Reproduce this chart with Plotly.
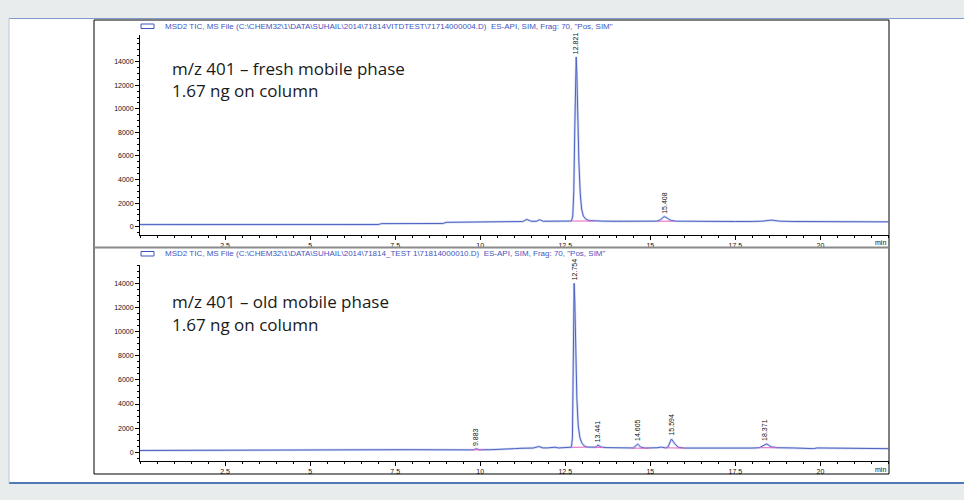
import plotly.graph_objects as go

W, H = 964, 500

# ---------------- DATA ----------------
top_time = [0.0, 0.5, 1.0, 2.0, 3.0, 4.0, 5.0, 6.0, 7.0, 7.1, 8.0, 8.9, 9.0, 9.5, 10.0, 10.5, 11.0,
            11.25, 11.37, 11.5, 11.65, 11.75, 11.85, 12.2, 12.5, 12.68, 12.72, 12.75, 12.78, 12.80,
            12.821, 12.84, 12.87, 12.90, 12.94, 12.98, 13.03, 13.10, 13.20, 13.35, 13.6, 14.0, 14.5,
            15.0, 15.2, 15.3, 15.408, 15.5, 15.6, 15.75, 16.0, 16.5, 17.0, 17.5, 18.0, 18.3, 18.55,
            18.8, 19.2, 19.8, 20.3, 21.0, 21.5, 22.0]
top_signal = [180, 180, 178, 180, 180, 179, 180, 181, 182, 260, 262, 270, 370, 380, 400, 410, 420,
              440, 620, 460, 460, 590, 460, 455, 465, 480, 900, 3000, 8500, 12800,
              14400, 13000, 9000, 5500, 2800, 1500, 900, 650, 520, 480, 470, 455, 450,
              455, 470, 600, 860, 720, 540, 470, 460, 450, 440, 440, 445, 470, 560,
              470, 440, 430, 420, 415, 410, 410]

bottom_time = [0.0, 1.0, 2.0, 3.0, 4.0, 5.0, 6.0, 7.0, 7.05, 8.0, 9.0, 9.2, 9.3, 9.4, 9.5, 9.8,
               9.883, 9.97, 10.3, 10.6, 11.0, 11.2, 11.45, 11.55, 11.72, 11.85, 12.0, 12.2, 12.3,
               12.5, 12.62, 12.68, 12.71, 12.73, 12.745, 12.76, 12.78, 12.81, 12.84, 12.88, 12.93,
               12.99, 13.06, 13.15, 13.3, 13.40, 13.46, 13.55, 13.7, 14.0, 14.3, 14.5, 14.63, 14.72,
               14.85, 15.0, 15.2, 15.33, 15.45, 15.52, 15.62, 15.72, 15.82, 16.0, 16.5, 17.0, 17.5,
               18.0, 18.2, 18.42, 18.55, 18.75, 19.2, 19.7, 19.8, 19.9, 20.5, 21.0, 22.0]
bottom_signal = [150, 150, 152, 150, 150, 152, 150, 152, 210, 215, 220, 200, 235, 195, 230, 200,
                 290, 210, 215, 230, 300, 330, 380, 350, 480, 360, 370, 420, 360,
                 380, 390, 420, 1200, 5000, 11000, 14000, 12500, 8000, 4500, 2200, 1200,
                 750, 520, 430, 400, 420, 600, 430, 390, 370, 340, 360, 680, 420,
                 350, 340, 380, 430, 360, 450, 1100, 700, 420, 350, 340, 330, 340,
                 350, 380, 700, 450, 380, 360, 340, 300, 360, 330, 310, 300]

top_peak_rt = [12.821, 15.408]
top_peak_apex = [14400, 860]
top_peak_label = ["12.821", "15.408"]

bottom_peak_rt = [9.883, 12.754, 13.441, 14.605, 15.594, 18.371]
bottom_peak_apex = [290, 14000, 600, 680, 1100, 700]
bottom_peak_label = ["9.883", "12.754", "13.441", "14.605", "15.594", "18.371"]

top_bl_t0 = [12.70, 15.20]
top_bl_t1 = [13.35, 15.70]
top_bl_v0 = [480, 465]
top_bl_v1 = [480, 465]

bottom_bl_t0 = [9.75, 12.68, 13.35, 14.45, 15.45, 18.20]
bottom_bl_t1 = [10.10, 13.15, 13.62, 14.95, 16.00, 18.75]
bottom_bl_v0 = [205, 410, 420, 345, 370, 380]
bottom_bl_v1 = [212, 430, 400, 340, 350, 375]

x_tick_vals = [2.5, 5, 7.5, 10, 12.5, 15, 17.5, 20]
x_tick_text = ["2.5", "5", "7.5", "10", "12.5", "15", "17.5", "20"]
y_tick_vals = [0, 2000, 4000, 6000, 8000, 10000, 12000, 14000]
y_tick_text = ["0", "2000", "4000", "6000", "8000", "10000", "12000", "14000"]

top_header = r'MSD2 TIC, MS File (C:\CHEM32\1\DATA\SUHAIL\2014\71814VITDTEST\71714000004.D)  ES-API, SIM, Frag: 70, "Pos, SIM"'
bottom_header = r'MSD2 TIC, MS File (C:\CHEM32\1\DATA\SUHAIL\2014\71814_TEST 1\71814000010.D)  ES-API, SIM, Frag: 70, "Pos, SIM"'
top_note = ["m/z 401 – fresh mobile phase", "1.67 ng on column"]
bottom_note = ["m/z 401 – old mobile phase", "1.67 ng on column"]

# ---------------- STYLE ----------------
TRACE = "#4f63c2"
PINK = "#e065c4"
HDR = "#3f55c0"
TICKFONT = dict(family="Liberation Sans, Arial, sans-serif", size=7, color="#111")
PAGE_BG = "#e9ecec"


def px(v):
    return v / W


def py(v):
    return 1 - v / H


fig = go.Figure()

panels = [
    ("x", "y", top_time, top_signal, top_bl_t0, top_bl_t1, top_bl_v0, top_bl_v1),
    ("x2", "y2", bottom_time, bottom_signal, bottom_bl_t0, bottom_bl_t1, bottom_bl_v0, bottom_bl_v1),
]
for xa, ya, t, s, b0, b1, v0, v1 in panels:
    fig.add_trace(go.Scatter(x=t, y=s, xaxis=xa, yaxis=ya, mode="lines",
                             line=dict(color="rgba(150,168,228,0.45)", width=2.4),
                             hoverinfo="skip", showlegend=False))
    fig.add_trace(go.Scatter(x=t, y=s, xaxis=xa, yaxis=ya, mode="lines",
                             line=dict(color=TRACE, width=1),
                             hoverinfo="skip", showlegend=False))
    for a, b, c, d in zip(b0, b1, v0, v1):
        fig.add_trace(go.Scatter(x=[a, b], y=[c, d], xaxis=xa, yaxis=ya, mode="lines",
                                 line=dict(color=PINK, width=1),
                                 hoverinfo="skip", showlegend=False))

xdom = [px(140), px(888.5)]


def xaxis_cfg(anchor):
    return dict(domain=xdom, range=[0, 22], anchor=anchor, showline=True, linecolor="black",
                linewidth=1, mirror=False, showgrid=False, zeroline=False,
                tickmode="array", tickvals=x_tick_vals, ticktext=x_tick_text,
                ticks="outside", ticklen=4, tickwidth=1, tickcolor="black",
                tickfont=TICKFONT, fixedrange=True,
                minor=dict(tickmode="linear", tick0=0, dtick=0.5, ticks="outside",
                           ticklen=2, tickcolor="black", showgrid=False))


def yaxis_cfg(anchor, dom, rng):
    return dict(domain=dom, range=rng, anchor=anchor, showline=True, linecolor="black",
                linewidth=1, showgrid=False, zeroline=False,
                tickmode="array", tickvals=y_tick_vals, ticktext=y_tick_text,
                ticks="outside", ticklen=4, tickwidth=1, tickcolor="black",
                tickfont=TICKFONT, fixedrange=True,
                minor=dict(tickmode="linear", tick0=0, dtick=500, ticks="outside",
                           ticklen=2, tickcolor="black", showgrid=False))


shapes = [
    # white report panel
    dict(type="rect", xref="paper", yref="paper", x0=px(9), x1=1.01, y0=py(483), y1=py(18),
         fillcolor="white", line=dict(width=0), layer="below"),
    dict(type="line", xref="paper", yref="paper", x0=px(9), x1=1.01, y0=py(18.5), y1=py(18.5),
         line=dict(color="#7f9bc8", width=1.2)),
    dict(type="line", xref="paper", yref="paper", x0=px(9), x1=1.01, y0=py(483), y1=py(483),
         line=dict(color="#4f79b8", width=2)),
    dict(type="line", xref="paper", yref="paper", x0=px(9), x1=px(9), y0=py(483), y1=py(18.5),
         line=dict(color="#b9c6da", width=1)),
    # chromatogram frame
    dict(type="rect", xref="paper", yref="paper", x0=px(94), x1=px(889), y0=py(474), y1=py(20),
         line=dict(color="black", width=1), fillcolor="rgba(0,0,0,0)"),
    dict(type="line", xref="paper", yref="paper", x0=px(94), x1=px(889), y0=py(247.5), y1=py(247.5),
         line=dict(color="#8a8a8a", width=2)),
    # header icons
    dict(type="rect", xref="paper", yref="paper", x0=px(141), x1=px(154), y0=py(28.5), y1=py(24),
         line=dict(color=HDR, width=1), fillcolor="rgba(0,0,0,0)"),
    dict(type="rect", xref="paper", yref="paper", x0=px(141), x1=px(154), y0=py(256), y1=py(251.5),
         line=dict(color=HDR, width=1), fillcolor="rgba(0,0,0,0)"),
]

HDRFONT = dict(family="Liberation Sans, Arial", size=8, color=HDR)
annotations = [
    dict(xref="paper", yref="paper", x=px(163), y=py(26), text=top_header, showarrow=False,
         xanchor="left", yanchor="middle", font=HDRFONT),
    dict(xref="paper", yref="paper", x=px(163), y=py(253.5), text=bottom_header, showarrow=False,
         xanchor="left", yanchor="middle", font=HDRFONT),
    dict(xref="paper", yref="paper", x=px(888), y=py(242.5), text="min", showarrow=False,
         xanchor="right", yanchor="middle", font=TICKFONT),
    dict(xref="paper", yref="paper", x=px(888), y=py(469.5), text="min", showarrow=False,
         xanchor="right", yanchor="middle", font=TICKFONT),
]
note_font = dict(family="Open Sans, sans-serif", size=17, color="#1a1a1a")
for i, line in enumerate(top_note):
    annotations.append(dict(xref="paper", yref="paper", x=px(170), y=py(68 + 23 * i), text=line,
                            showarrow=False, xanchor="left", yanchor="middle", font=note_font))
for i, line in enumerate(bottom_note):
    annotations.append(dict(xref="paper", yref="paper", x=px(170), y=py(301 + 23 * i), text=line,
                            showarrow=False, xanchor="left", yanchor="middle", font=note_font))

for xa, ya, rts, apex, labs in [("x", "y", top_peak_rt, top_peak_apex, top_peak_label),
                                ("x2", "y2", bottom_peak_rt, bottom_peak_apex, bottom_peak_label)]:
    for r, a, l in zip(rts, apex, labs):
        annotations.append(dict(xref=xa, yref=ya, x=r, y=a, text=l, showarrow=False,
                                textangle=-90, xanchor="center", yanchor="bottom", yshift=1,
                                font=dict(family="Liberation Sans, Arial", size=7, color="#111")))

fig.update_layout(
    width=W, height=H,
    margin=dict(l=0, r=0, t=0, b=0),
    paper_bgcolor=PAGE_BG,
    plot_bgcolor="rgba(0,0,0,0)",
    showlegend=False,
    hovermode=False,
    xaxis=xaxis_cfg("y"),
    yaxis=yaxis_cfg("x", [py(235), py(35)], [-705, 16260]),
    xaxis2=xaxis_cfg("y2"),
    yaxis2=yaxis_cfg("x2", [py(460.5), py(265)], [-680, 15520]),
    shapes=shapes,
    annotations=annotations,
)

fig.write_html(
    "out.html",
    config={"displayModeBar": False, "staticPlot": True},
    post_script="document.body.style.margin='0px';document.body.style.background='%s';" % PAGE_BG,
)
